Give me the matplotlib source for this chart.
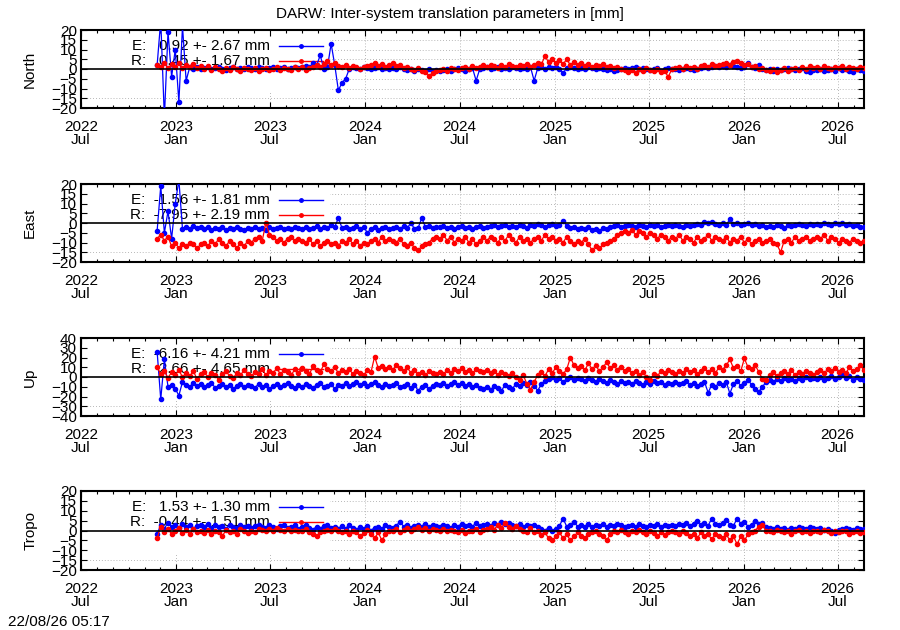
import matplotlib
matplotlib.use("Agg")
import matplotlib.pyplot as plt
import matplotlib.dates as mdates
from matplotlib.patches import Rectangle
import pandas as pd

plt.rcParams.update({
    "font.family": ["Liberation Sans", "DejaVu Sans"],
    "font.size": 11,
})

# ── Data (weekly readings from the plot, first epoch 2022-11-25) ──
first_epoch = "2022-11-25"
x_range = ("2022-07-01", "2026-08-21")

components = ["North", "East", "Up", "Tropo"]
y_ranges = [(-20, 20), (-20, 20), (-40, 40), (-20, 20)]
y_steps = [5, 5, 10, 5]

e_mean = [0.92, -1.56, -6.16, 1.53]
e_sdev = [2.67, 1.81, 4.21, 1.30]
r_mean = [0.45, -7.95, 2.66, -0.44]
r_sdev = [1.67, 2.19, 4.65, 1.51]

north_e = [
    2, 25, -25, 19, -4, 10, -17, 22, -6, 1, 0, 1, 0,
    0.5, 1, 0, 0.5, 1, 0, -0.5, 0.5, 1, 0, 0.5, 0, 1,
    0.5, 0, 1, 0.5, 0, 0.5, 1, 0, 0.5, 1, 0, 0.5, 1,
    0.5, 1, 1.5, 1, 3, 2, 7, 0, 1, 13, 2, -11, -7,
    -5, 0, 1, 0.5, 0, 1, 0.5, 0, 0.5, 1, 0, 0.5, 0,
    0.5, 0, 1, 0, -0.5, 0, -1, 0, -0.5, -1, 0, -1, -0.5,
    -1, -0.5, 0, -1, 0, 0.5, 0, -1, 0, 0.5, -6, 0, 0.5,
    1, 0, 0.5, 1, 0, 0.5, 0, 1, 0.5, 0, 0.5, 0, 1,
    -6, 0.5, 1, 0, 1, 0.5, 1, 0, -2, 0.5, 1, 0.5, 0,
    0.5, 0, 1, 0.5, 0, 0.5, 0, -0.5, 0, -1, -0.5, 0, 0.5,
    0, 0.5, 1, 0, 0.5, 0, -0.5, 0, 0.5, -1, 0, 0.5, 0,
    0, -0.5, 0, 0.5, 0, -0.5, 0, 0.5, 1, 0.5, 1, 1.5, 1,
    1.5, 1, 2, 1.5, 1, 0.5, 1, 3, 1, 0.5, 2, 0, -0.5,
    0, -1, 0, -0.5, 0, 0.5, 0, -0.5, 0, 0.5, -1, -1.5, -0.5,
    -0.5, 0, -1, -0.5, 0, -1, 0.5, -0.5, 0, -1, -1.5, 0, -0.5,
    -1,
]
north_r = [
    2, 1, 3, 0.5, 2.5, 1, 3, 0.5, 2, 1, 2.5, 0.5, 1.5,
    0, 1.5, -0.5, 1, 0, -1, 0.5, -0.5, 1, 0, -1, 0.5, 0,
    -0.5, 0.5, -1, 0, 0.5, -0.5, 0, 1, -0.5, 0.5, 0, -0.5, 1,
    0, 1, -0.5, 0.5, 1, 2, 1, 2.5, 4, 2, 3, 1.5, 1,
    2, 0.5, 1.5, 1, 0, 1, 1.5, 2, 3, 1.5, 2.5, 1, 2,
    3, 1.5, 2, 0.5, 1, 0, -0.5, 0.5, -1, -1.5, -3.5, -2, -1,
    -0.5, 0, -1, 0.5, 0, -0.5, 0.5, 1, 0, 1.5, 0.5, 1, 2,
    1, 2, 1.5, 0.5, 2, 1, 2.5, 1.5, 1, 2, 1.5, 2.5, 1,
    2, 3, 2.5, 6.5, 3.5, 5, 3, 4.5, 2.5, 5, 2, 3.5, 2,
    3, 1.5, 2.5, 1, 2, 1.5, 2.5, 1, 1.5, 0.5, 1, 0, -0.5,
    -1.5, -0.5, -2, 0, -1, 0.5, -0.5, -1, 0, -1.5, -1, -4, 0,
    0.5, 1, 0, 1.5, 0.5, 1, 0, 1.5, 2, 1, 2.5, 1.5, 2,
    2.5, 3, 2, 3.5, 4, 3, 2, 2.5, 1, 1.5, 0, 0.5, -0.5,
    -1, 0, -1.5, -0.5, 0.5, -1, 0, 0.5, -0.5, 1, 0, 1.5, 0.5,
    1, 0, 1.5, 0.5, 0, 1, 0.5, 1.5, 0, 1, 0.5, 0, 1,
    0.5,
]
east_e = [
    -4, 19, -5, 6, -8, 10, 22, -3, -2, -3, -1.5, -2.5, -2,
    -3, -2, -3.5, -2.5, -3, -2, -3.5, -2.5, -3, -2, -3, -3.5, -2.5,
    -3, -2, -3, -2.5, -3.5, -2, -3, -2.5, -2, -3, -2.5, -3, -2,
    -2.5, -3, -2, -3, -2.5, -1.5, -3, -2, -2.5, -1, -2, 2.5, -2.5,
    -2, -3, -2.5, -1.5, -3, -2, -5, -3, -2, -3.5, -2.5, -2, -3,
    -2.5, -2, -3, -1.5, -2.5, 0, -3, -2.5, 2.5, -2, -1.5, -2.5, -2,
    -2, -1.5, -2.5, -2, -3, -2, -1.5, -2.5, -2, -3, -2, -1.5, -2.5,
    -2, -1.5, -1, -2, -1.5, -1, -2, -1.5, -2, -1, -1.5, -2.5, -1,
    -1.5, -0.5, -1, -2, -1, -0.5, -1.5, -1, 1, -1.5, -2.5, -2, -3,
    -2.5, -3, -2, -3.5, -3, -4, -2.5, -3, -2, -1.5, -1, -2, -1.5,
    -1, -1.5, -2, -1, -1.5, -2, -1, -1.5, -1, -2, -1.5, -1, -1.5,
    -1, -1.5, -2, -1, -1.5, -1, -0.5, -1, 0.5, 0, 0.5, -0.5, -1,
    0, -1, 2, -0.5, 0, -1, -0.5, 0, -1, -0.5, -1.5, -1, -2,
    -1.5, -2, -1, -1.5, -2.5, -1, -1.5, -1, -0.5, -1, -1.5, -0.5, -1,
    -0.5, -1, 0, -0.5, -1, 0, -0.5, 0, -1, -0.5, -1.5, -1, -2,
    -2,
]
east_r = [
    -8, -6, -9, -7, -12, -10, -13, -11, -12, -10, -11, -13, -11,
    -10, -12, -9, -11, -8, -10, -12, -9, -11, -13, -10, -12, -9,
    -10, -8, -7, -9, 0, -6, -7, -9, -8, -10, -8, -7, -9,
    -8, -9, -10, -8, -11, -9, -12, -10, -9, -11, -10, -12, -9,
    -10, -8, -11, -9, -12, -10, -11, -9, -8, -10, -7, -9, -8,
    -9, -10, -8, -11, -12, -10, -13, -14, -12, -11, -10, -8, -7,
    -8, -6, -9, -7, -10, -8, -9, -7, -10, -8, -11, -9, -7,
    -9, -7, -8, -10, -7, -9, -6, -8, -10, -7, -9, -8, -10,
    -8, -7, -9, -6, -8, -7, -9, -8, -10, -7, -9, -11, -9,
    -10, -8, -11, -14, -12, -13, -11, -10, -9, -8, -6, -5, -4,
    -5, -3.5, -6, -4, -5, -7, -5, -6, -8, -6, -7, -9, -7,
    -8, -6, -9, -7, -8, -10, -7, -9, -8, -6, -9, -7, -8,
    -9, -7, -10, -8, -9, -7, -10, -8, -11, -9, -8, -10, -9,
    -8, -10, -11, -15, -9, -8, -10, -7, -9, -8, -7, -9, -8,
    -7, -8, -6, -9, -7, -8, -10, -8, -9, -10, -8, -9, -10,
    -9,
]
up_e = [
    26, -23, 18, -10, -8, -12, -19, -5, -8, -10, -6, -9, -7,
    -10, -8, -6, -11, -9, -7, -10, -8, -12, -9, -7, -10, -8,
    -9, -11, -7, -10, -8, -12, -9, -7, -10, -8, -6, -9, -11,
    -8, -10, -7, -9, -11, -8, -6, -10, -9, -7, -12, -8, -9,
    -6, -9, -7, -5, -8, -6, -9, -7, -5, -8, -10, -7, -9,
    -8, -6, -10, -9, -7, -11, -8, -14, -10, -8, -12, -9, -7,
    -8, -6, -9, -7, -5, -8, -6, -9, -7, -10, -8, -11, -12,
    -10, -13, -9, -11, -14, -8, -10, -12, -7, -9, -6, -8, -5,
    -9, -14, -7, -4, -2, 0, -3, -1, -5, -2, 0, -3, -1,
    -2, -4, -1, -3, -5, -2, -4, -6, -3, -5, -7, -4, -6,
    -5, -7, -4, -6, -8, -5, -7, -4, -6, -5, -8, -6, -7,
    -5, -7, -6, -4, -8, -6, -9, -7, -5, -16, -8, -10, -6,
    -8, -5, -17, -7, -4, -9, -6, -3, -8, -12, -15, -10, -5,
    -3, -5, -2, -4, -1, -3, -2, -4, -1, -3, 0, -2, -1,
    -2, 0, -3, -1, 1, -2, 0, 2, -1, 1, -3, 0, -2,
    -3,
]
up_r = [
    10, 3, 6, -1, 5, 2, 7, 0, 4, 1, 6, -2, 3,
    5, 0, 4, 2, -3, 3, 6, 1, -1, 4, 2, 7, 3,
    1, 5, 3, 8, 2, 6, 4, 9, 3, 7, 5, 2, 8,
    4, 9, 6, 3, 11, 7, 5, 13, 8, 6, 10, 4, 7,
    5, 8, 3, 6, 4, 2, 7, 5, 21, 9, 11, 8, 10,
    7, 12, 9, 6, 10, 4, 7, 3, 5, 2, 6, 4, 3,
    5, 3, 7, 4, 8, 6, 9, 5, 7, 4, 8, 6, 5,
    7, 4, 6, 2, 5, 3, 1, 4, 0, -3, 2, -7, -13,
    -5, 2, 5, 1, 8, 4, 10, 6, 3, 8, 20, 12, 9,
    11, 7, 14, 8, 12, 6, 10, 15, 9, 12, 7, 10, 6,
    8, 4, 6, 2, 5, 0, -3, 3, 1, 6, 4, 7, 5,
    3, 6, 4, 8, 5, 7, 3, 6, 9, 5, 8, 4, 10,
    7, 12, 18, 9, 11, 6, 19, 10, 8, 12, 5, -2, -3,
    2, 5, 1, 4, 6, 3, 7, 2, 5, 3, 6, 4, 2,
    5, 7, 4, 8, 6, 9, 5, 7, 4, 10, 6, 8, 12,
    7,
]
tropo_e = [
    -2, 3, 1, 4, 2, 3, 1.5, 3.5, 2, 3, 1, 2.5, 3,
    2, 3.5, 1.5, 3, 2, 2.5, 1, 3, 2, 1.5, 3, 2, 2.5,
    1.5, 2.5, 3, 2, 1.5, 3, 2, 1, 2.5, 3, 1.5, 2, 3,
    1, 2, 3, 1.5, 0.5, 2, 1, 2.5, 3, 1.5, 2, 1, 2.5,
    1, 3, 1.5, 0.5, 2, 1, 2.5, 0, 1.5, 2, 1, 3, 2,
    1.5, 2.5, 4.5, 2, 3, 1.5, 2.5, 3, 2, 3.5, 2, 3, 2.5,
    2, 3, 2.5, 1.5, 3, 2, 3.5, 2.5, 3, 2, 4, 2.5, 3,
    3.5, 2.5, 4, 3, 4.5, 3.5, 4, 3, 2.5, 3.5, 2, 3, 2.5,
    3, 2, 1, 0, 1.5, -0.5, 1, 2.5, 6, 2, 3, 4.5, 2,
    3, 2, 3.5, 2, 3, 2.5, 3.5, 2, 3, 2.5, 3.5, 3, 2,
    2.5, 3, 2, 3.5, 2.5, 2, 3, 2.5, 3.5, 2, 3, 2.5, 3,
    2.5, 3.5, 3, 4, 2.5, 3.5, 5, 3, 4, 2.5, 6, 3.5, 3,
    4, 5.5, 3, 2.5, 6, 3.5, 4.5, 2, 3, 5, 3.5, 4, 2,
    1.5, 1, 2, 1, 1.5, 0.5, 1.5, 1, 2, 1.5, 1, 2, 1.5,
    1, 1.5, 0.5, 1, 0, -1.5, 0.5, 1, 1.5, 1, 0.5, 1.5, 1,
    1,
]
tropo_r = [
    -4, 2, -1, 1, -2, 0, 1.5, -1.5, 0.5, -2, 1, -1, 0,
    -1.5, 0.5, -2, 0, -1, -3, 0.5, -1, 0, -2, 1, -0.5, -1.5,
    0, -1, 1, 0.5, -0.5, 1, 0, 1.5, 0.5, 0, 1, -0.5, 0.5,
    0, -0.5, 1, -1, -2, -3, -1, 0, 0.5, -0.5, 1, 0, -1,
    -0.5, -2, 0, -1, -3, -1.5, 0.5, -2, -4, -1, -5, -2, -0.5,
    0, 1, -1, 0.5, 1.5, 0, 1, 2, 0.5, 1.5, 0, 1, 0.5,
    0, 1, -0.5, 0.5, 0, -1, 0.5, -1.5, 0, -0.5, 1, -1, 0.5,
    1, 2, 0.5, 3, 1.5, 4, 2, 1, 2.5, 1, 0, -1, 1.5,
    -1, 0, -2.5, -1, -4, -5, -3, -1, -4, -2, -5, -3, -1,
    -3, -4, -2, -1, 0, -2, -3, -5, -2, 0, -1, 0.5, -1,
    -2, 0, -1, 0.5, -1, -2, 0, -1.5, -3, -1, -2.5, -1, 0,
    -1, -2, -0.5, -1.5, -3, -2, -4, -1, -3, -2, -4.5, -2, -3,
    -4, -2, -5, -3, -7, -3, -5, -2, -1, 0, 2, 3, -0.5,
    0, -1, 0.5, -0.5, -1, 0, -2, -0.5, 0.5, -1, 0, -1.5, -0.5,
    0, -1, 0.5, -0.5, -1.5, 0, -1, 0, -0.5, -2, -1, 0, -1.5,
    -1,
]

e_series = [north_e, east_e, up_e, tropo_e]
r_series = [north_r, east_r, up_r, tropo_r]

# ── Layout (pixel boxes of the 900x630 gnuplot page) ──
W, H = 900, 630
panel_px = [(30, 108), (184, 262), (338, 416), (491, 570)]
left_px, right_px = 81, 864

BLUE, RED = "#0000ff", "#ff0000"
GRID = "#a0a0a0"

fig = plt.figure(figsize=(W / 100, H / 100), dpi=100)

xmin, xmax = pd.Timestamp(x_range[0]), pd.Timestamp(x_range[1])

for i, (top, bot) in enumerate(panel_px):
    ax = fig.add_axes([left_px / W, 1 - bot / H,
                       (right_px - left_px) / W, (bot - top) / H])
    lo, hi = y_ranges[i]
    ax.set_xlim(xmin, xmax)
    ax.set_ylim(lo, hi)

    ax.xaxis.set_major_locator(mdates.MonthLocator(bymonth=[1, 7]))
    ax.xaxis.set_minor_locator(mdates.MonthLocator())
    ax.xaxis.set_major_formatter(mdates.DateFormatter("%Y\n%b"))
    yt = list(range(lo, hi + 1, y_steps[i]))
    ax.set_yticks(yt)
    ax.tick_params(which="both", direction="in", top=True, right=True,
                   width=0.8, labelsize=11)
    ax.tick_params(axis="x", which="major", length=4.5, pad=8.5)
    ax.tick_params(axis="y", which="major", length=4.5, pad=3)
    ax.tick_params(which="minor", length=2.2)
    for lab in ax.get_xticklabels():
        lab.set_linespacing(0.95)
    for sp in ax.spines.values():
        sp.set_linewidth(1.5)

    # dotted grid, drawn by hand so the opaque key box can hide it
    for v in yt[1:-1]:
        ax.axhline(v, color=GRID, lw=0.6, ls=(0, (1, 2.5)), zorder=0.5)
    for d in pd.date_range(xmin, xmax, freq="6MS")[1:]:
        ax.axvline(d, color=GRID, lw=0.6, ls=(0, (1, 2.5)), zorder=0.5)

    # opaque key area (top left)
    ax.add_patch(Rectangle((0, 0.19), 0.318, 0.81, transform=ax.transAxes,
                           facecolor="white", edgecolor="none", zorder=1))

    keys = [
        (f"E: {e_mean[i]:6.2f} +- {e_sdev[i]:4.2f} mm", BLUE, 0.80),
        (f"R: {r_mean[i]:6.2f} +- {r_sdev[i]:4.2f} mm", RED, 0.605),
    ]
    for txt, col, ky in keys:
        ax.text(0.241, ky, txt, transform=ax.transAxes, ha="right",
                va="center", fontsize=11, zorder=2)
        ax.plot([0.253, 0.309], [ky, ky], transform=ax.transAxes,
                color=col, lw=1.0, zorder=2)
        ax.plot([0.281], [ky], transform=ax.transAxes, marker="o",
                ms=2.5, color=col, zorder=2)

    for vals, col in ((e_series[i], BLUE), (r_series[i], RED)):
        dates = pd.date_range(first_epoch, periods=len(vals), freq="7D")
        ax.plot(dates, vals, color=col, lw=0.9, marker="o", ms=3.0,
                mec=col, zorder=3, clip_on=True)

    ax.axhline(0, color="black", lw=1.2, zorder=4)

    ax.set_ylabel(components[i], fontsize=11)
    ax.yaxis.set_label_coords(-0.056, 0.5)

fig.text(0.5, 1 - 14 / H, "DARW: Inter-system translation parameters in [mm]",
         ha="center", va="center", fontsize=11)
fig.text(8 / W, 1 - 622 / H, "22/08/26 05:17", ha="left", va="center",
         fontsize=11)

fig.savefig("out.png", dpi=100, facecolor="white")
